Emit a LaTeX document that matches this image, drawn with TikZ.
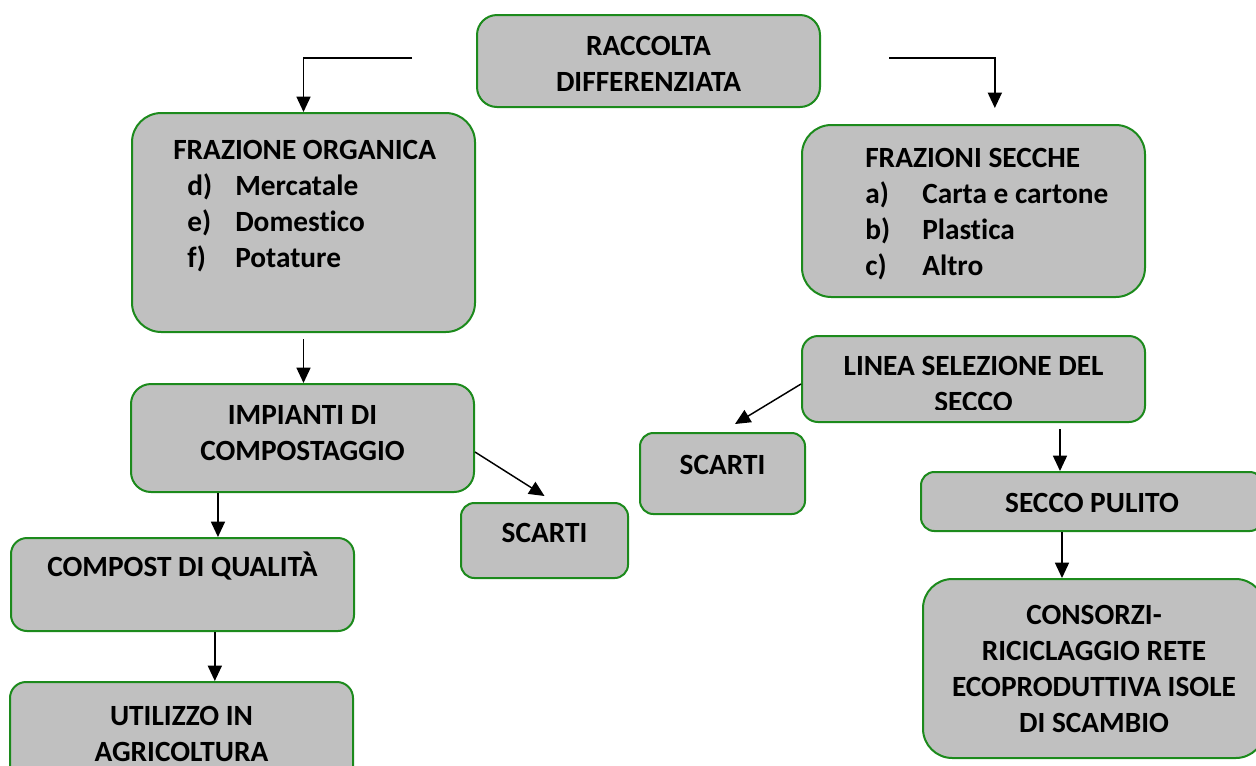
\documentclass[tikz,border=0pt]{standalone}
\usepackage{fontspec}
\setmainfont{Carlito}[Ligatures={NoCommon}]
\usepackage{tikz}
\usetikzlibrary{arrows.meta}

\definecolor{boxgreen}{RGB}{28,138,28}
\definecolor{boxgray}{RGB}{192,192,192}

\tikzset{
	box/.style={draw=boxgreen, line width=1.5pt, fill=boxgray, rounded corners=#1, inner sep=0pt},
	box/.default=12pt,
	boxsize/.style 2 args={minimum width=#1*0.75pt, minimum height=#2*0.75pt},
	txt/.style={font=\fontsize{22}{27}\selectfont\bfseries, align=center, inner sep=0pt},
	link/.style={-{Triangle[length=11.5pt,width=10.5pt]}, line width=1.1pt},
}

\begin{document}
\begin{tikzpicture}[x=0.75pt, y=-0.75pt]
			\clip (0,0) rectangle (1256,765);

			% boxes
			\node[box=15pt, boxsize={343}{92}] (racc) at (648.5,61) {};
			\node[box=22pt, boxsize={343}{219}] (org) at (303.5,222.5) {};
			\node[box=22pt, boxsize={343}{172}] (secche) at (973.5,211) {};
			\node[box=15pt, boxsize={343}{108}] (imp) at (302.5,438) {};
			\node[box=10pt, boxsize={167}{75}] (scl) at (544.5,540.5) {};
			\node[box=12pt, boxsize={343}{93}] (comp) at (182.5,584.5) {};
			\node[box=12pt, boxsize={343}{108}] (util) at (181.5,736) {};
			\node[box=12pt, boxsize={343}{86}] (linea) at (973.5,379) {};
			\node[box=10pt, boxsize={165}{81}] (scr) at (722.5,473.5) {};
			\node[box=10pt, boxsize={342}{59}] (pul) at (1092,501.5) {};
			\node[box=22pt, boxsize={342}{179}] (cons) at (1094,668.5) {};

			% texts
			\node[txt] (t-racc) at (648.5,64) {RACCOLTA\\DIFFERENZIATA};
			\node[txt, align=left, anchor=west] (t-org) at (173,206) {FRAZIONE ORGANICA\\
				\hspace*{10.5pt}\makebox[36pt][l]{d)}Mercatale\\
				\hspace*{10.5pt}\makebox[36pt][l]{e)}Domestico\\
				\hspace*{10.5pt}\makebox[36pt][l]{f)}Potature};
			\node[txt, align=left, anchor=west] (t-secche) at (865,214) {FRAZIONI SECCHE\\
				\makebox[42.75pt][l]{a)}Carta e cartone\\
				\makebox[42.75pt][l]{b)}Plastica\\
				\makebox[42.75pt][l]{c)}Altro};
			\node[txt] (t-imp) at (302.5,433.5) {IMPIANTI DI\\COMPOSTAGGIO};
			\node[txt] (t-scl) at (544.5,533) {SCARTI};
			\node[txt] (t-comp) at (182.5,566.5) {COMPOST DI QUALITÀ};
			\node[txt] (t-util) at (181.5,734) {UTILIZZO IN\\AGRICOLTURA};
			\begin{scope}
				\clip (802,336) rectangle (1145,409);
				\node[txt] (t-linea) at (973.5,384) {LINEA SELEZIONE DEL\\SECCO};
			\end{scope}
			\node[txt] (t-scr) at (722.5,465) {SCARTI};
			\node[txt] (t-pul) at (1092,503) {SECCO PULITO};
			\node[txt] (t-cons) at (1094,669) {CONSORZI-\\RICICLAGGIO RETE\\ECOPRODUTTIVA ISOLE\\DI SCAMBIO};

			% arrows
			\coordinate (tl) at (412,58);
			\coordinate (tr) at (889,58);
			\draw[link] (tl) -| (org);
			\draw[link] (tr) -| ([xshift=16pt,yshift=12pt]secche.north);
			\draw[link, shorten <=4.5pt] (org.south) -- (org.south |- imp.north);
			\coordinate (c1) at ([xshift=26.6pt]comp.north);
			\draw[link] (imp.south -| c1) -- (c1);
			\coordinate (c2) at ([xshift=25pt]util.north);
			\draw[link] (comp.south -| c2) -- (c2);
			\draw[link] ([yshift=-10.5pt]imp.east) -- ([yshift=4.5pt]scl.north);
			\draw[link] ([yshift=-3.75pt]linea.west) -- ([xshift=9.4pt,yshift=6pt]scr.north);
			\coordinate (c3) at ([xshift=-24pt]pul.north);
			\draw[link, shorten <=4.5pt] (linea.south -| c3) -- (c3);
			\coordinate (c4) at ([xshift=-24pt]cons.north);
			\draw[link] (pul.south -| c4) -- (c4);
		\end{tikzpicture}
\end{document}
